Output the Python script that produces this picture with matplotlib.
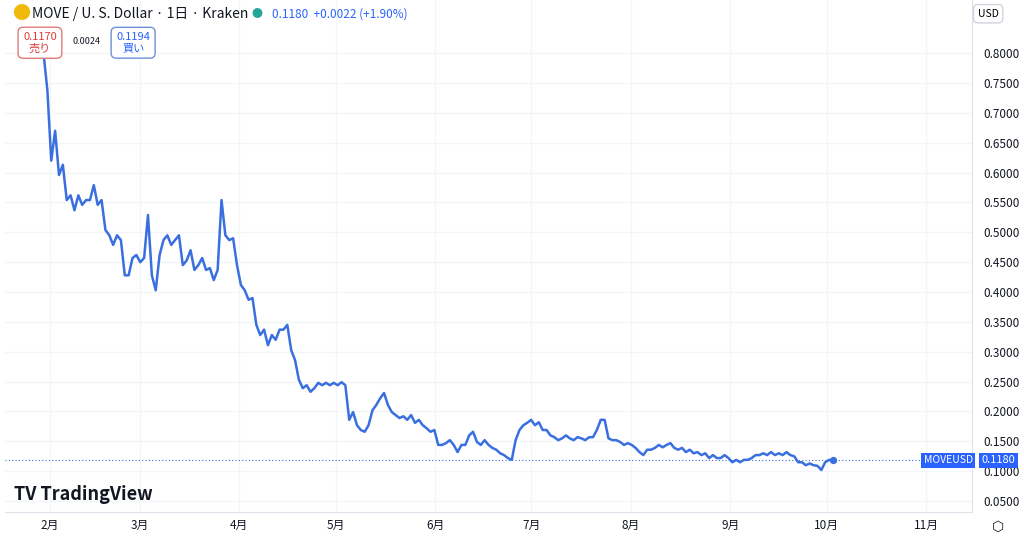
import numpy as np
import pandas as pd
import matplotlib.pyplot as plt
import matplotlib.dates as mdates

plt.rcParams['font.family'] = ['Noto Sans CJK JP', 'DejaVu Sans']

# Daily-ish closing prices (Jan 30 .. Oct 3, 2025)
prices = [
    0.800, 0.738, 0.620, 0.670, 0.596, 0.613, 0.554, 0.562, 0.537, 0.562, 0.546, 0.554,
    0.554, 0.579, 0.546, 0.554, 0.504, 0.495, 0.479, 0.495, 0.487, 0.428, 0.428, 0.457,
    0.462, 0.450, 0.457, 0.529, 0.428, 0.403, 0.462, 0.487, 0.495, 0.479, 0.487, 0.495,
    0.445, 0.453, 0.470, 0.437, 0.445, 0.457, 0.437, 0.440, 0.420, 0.437, 0.554, 0.495,
    0.487, 0.490, 0.445, 0.412, 0.403, 0.387, 0.390, 0.345, 0.328, 0.337, 0.311, 0.328,
    0.320, 0.337, 0.337, 0.345, 0.303, 0.286, 0.253, 0.239, 0.244, 0.233, 0.239, 0.248,
    0.244, 0.248, 0.244, 0.248, 0.244, 0.249, 0.244, 0.186, 0.199, 0.177, 0.169, 0.166,
    0.177, 0.202, 0.211, 0.222, 0.231, 0.211, 0.199, 0.194, 0.189, 0.192, 0.186, 0.194,
    0.181, 0.186, 0.177, 0.172, 0.166, 0.169, 0.144, 0.144, 0.147, 0.152, 0.144, 0.132,
    0.144, 0.144, 0.160, 0.166, 0.149, 0.144, 0.152, 0.144, 0.139, 0.136, 0.130, 0.127,
    0.122, 0.119, 0.152, 0.169, 0.177, 0.181, 0.186, 0.177, 0.182, 0.169, 0.169, 0.160,
    0.157, 0.152, 0.155, 0.160, 0.155, 0.152, 0.157, 0.155, 0.152, 0.157, 0.157, 0.169,
    0.186, 0.186, 0.155, 0.152, 0.152, 0.149, 0.144, 0.147, 0.144, 0.139, 0.132, 0.127,
    0.136, 0.136, 0.139, 0.144, 0.140, 0.144, 0.147, 0.139, 0.136, 0.139, 0.132, 0.136,
    0.130, 0.132, 0.127, 0.130, 0.122, 0.127, 0.122, 0.122, 0.127, 0.122, 0.115, 0.119,
    0.115, 0.119, 0.119, 0.122, 0.127, 0.127, 0.130, 0.127, 0.132, 0.127, 0.130, 0.127,
    0.132, 0.127, 0.125, 0.115, 0.115, 0.110, 0.113, 0.110, 0.109, 0.102, 0.115, 0.119,
    0.118,
]
dates = pd.date_range("2025-01-30", "2025-10-03", periods=len(prices))
last_price = 0.1180
y_ticks = [0.05 * i for i in range(1, 17)]
month_ticks = pd.date_range("2025-02-01", "2025-11-01", freq="MS")
month_labels = [f"{d.month}月" for d in month_ticks]

line_color = "#3a6fe0"
grid_color = "#f3f5f9"

fig = plt.figure(figsize=(10.24, 5.48), dpi=100)
ax = fig.add_axes([5 / 1024, 36 / 548, 967 / 1024, 512 / 548])

ax.plot(dates, prices, color=line_color, lw=1.8, solid_joinstyle="round")
ax.scatter([dates[-1]], [last_price], s=18, color=line_color, zorder=5)
ax.axhline(last_price, color=line_color, lw=0.8, ls=(0, (1, 2)))

ax.set_ylim(0.0317, 0.889)
ax.set_xlim(pd.Timestamp("2025-01-18"), pd.Timestamp("2025-11-15 08:00"))

ax.set_yticks(y_ticks)
ax.set_yticklabels([f"{v:.4f}" for v in y_ticks])
ax.yaxis.tick_right()
ax.set_xticks(month_ticks)
ax.set_xticklabels(month_labels)
ax.tick_params(axis="both", length=0, labelsize=8.5, colors="#131722")
ax.tick_params(axis="y", pad=8)
ax.tick_params(axis="x", pad=5)
ax.grid(True, color=grid_color, lw=1)
for s in ["top", "left"]:
    ax.spines[s].set_visible(False)
ax.spines["right"].set_color("#e0e3eb")
ax.spines["bottom"].set_color("#e0e3eb")

# header
fig.text(0.012, 0.975, "●", color="#f0b90b", fontsize=13, va="center")
fig.text(0.031, 0.975, "MOVE / U. S. Dollar · 1日 · Kraken", fontsize=10, va="center", color="#131722")
fig.text(0.246, 0.975, "●", color="#26a69a", fontsize=8, va="center")
fig.text(0.266, 0.975, "0.1180  +0.0022 (+1.90%)", fontsize=8.5, va="center", color="#2962ff")
fig.text(0.039, 0.922, "0.1170\n売り", fontsize=8, color="#e03a3a", ha="center", va="center",
         linespacing=1.1, bbox=dict(boxstyle="round,pad=0.45", fc="white", ec="#e07a7a"))
fig.text(0.084, 0.924, "0.0024", fontsize=6.5, ha="center", va="center", color="#131722")
fig.text(0.130, 0.922, "0.1194\n買い", fontsize=8, color="#2962ff", ha="center", va="center",
         linespacing=1.1, bbox=dict(boxstyle="round,pad=0.45", fc="white", ec="#6e8fd8"))
fig.text(0.965, 0.975, "USD", fontsize=7.5, ha="center", va="center",
         bbox=dict(boxstyle="round,pad=0.4", fc="white", ec="#d1d4dc"))

# logo
fig.text(0.014, 0.097, "TV TradingView", fontsize=13, fontweight="bold", color="#131722", va="center")

# last price labels
ylp = ax.transData.transform((0, last_price))[1] / fig.bbox.height
fig.text(0.926, ylp, "MOVEUSD", fontsize=7.5, color="white", ha="center", va="center",
         bbox=dict(boxstyle="square,pad=0.25", fc="#2962ff", ec="none"))
fig.text(0.975, ylp, "0.1180", fontsize=8, color="white", ha="center", va="center",
         bbox=dict(boxstyle="square,pad=0.25", fc="#2962ff", ec="none"))
fig.text(0.975, 0.038, "⬡", fontsize=10, ha="center", va="center", color="#131722")

fig.savefig("out.png", dpi=100)
